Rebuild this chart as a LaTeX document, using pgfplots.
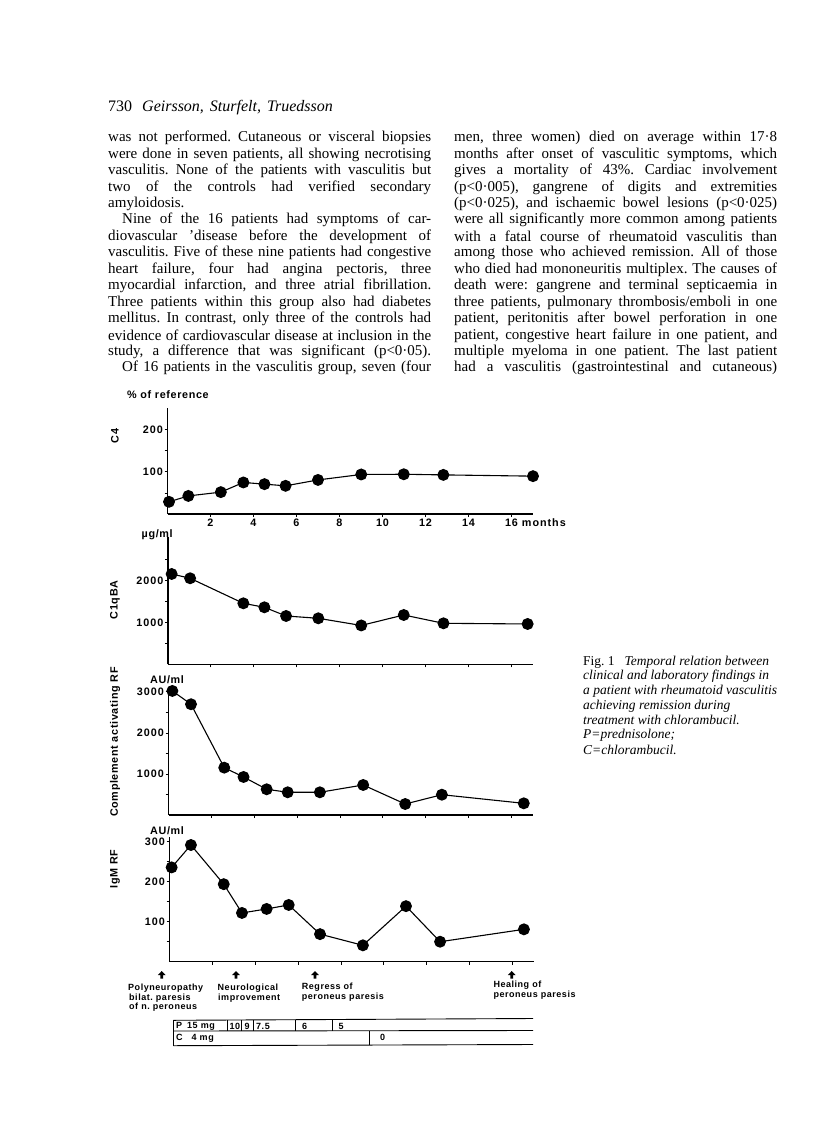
\documentclass[border=0pt]{standalone}
\usepackage{pgfplots}
\pgfplotsset{compat=1.18}
\usepackage{fontspec}
\setmainfont{Liberation Serif}
\newfontfamily\hv[LetterSpace=6]{Liberation Sans}
\newfontfamily\hvt[LetterSpace=9]{Liberation Sans}
\newfontfamily\hva[LetterSpace=6]{Liberation Sans}
\newcommand{\jl}[1]{\makebox[323pt][s]{#1}}
\newcommand{\ji}[1]{\makebox[309pt][s]{#1}}
\newcommand{\sbf}{\hv\bfseries\fontsize{10.8}{12}\selectfont}
\newcommand{\stk}{\hvt\bfseries\fontsize{10.8}{12}\selectfont}
\newcommand{\sann}{\hva\bfseries\fontsize{9}{10}\selectfont}
\frenchspacing

\pgfplotsset{
  panel/.style={
    scale only axis, clip=false,
    axis x line=bottom, axis y line=left,
    axis line style={-, line width=1.2pt},
    tick style={line width=0.9pt, black},
    tick align=outside, major tick length=3pt, minor tick length=3pt,
    xmin=0, xmax=17, xtick={2,4,...,16}, xticklabels={},
    ymin=0, scaled ticks=false,
    ticklabel style={font=\stk},
    yticklabel style={inner sep=1.5pt},
    /pgf/number format/assume math mode=true,
  },
  dat/.style={black, line width=1.1pt, mark=*, mark size=5.4pt, mark options={solid, fill=black}},
}

\begin{document}
\begin{tikzpicture}[x=1pt,y=-1pt]
\fill[white] (0,0) rectangle (816,1144);
\path[use as bounding box] (0,0) rectangle (816,1144);

% ---------- body text ----------
\node[anchor=west, inner sep=0pt, font=\fontsize{16}{18}\selectfont] at (108,108) {730\hspace{10pt}\itshape Geirsson,\hspace{2pt} Sturfelt,\hspace{2pt} Truedsson};
\begin{scope}[every node/.style={anchor=west, inner sep=0pt, font=\fontsize{15}{16}\selectfont}]
\node at (108,138.0) {\jl{was not performed. Cutaneous or visceral biopsies}};
\node at (108,154.45) {\jl{were done in seven patients, all showing necrotising}};
\node at (108,170.9) {\jl{vasculitis. None of the patients with vasculitis but}};
\node at (108,187.35) {\jl{two of the controls had verified secondary}};
\node at (108,203.8) {amyloidosis.};
\node at (122,220.25) {\ji{Nine of the 16 patients had symptoms of car-}};
\node at (108,236.7) {\jl{diovascular 'disease before the development of}};
\node at (108,253.15) {\jl{vasculitis. Five of these nine patients had congestive}};
\node at (108,269.6) {\jl{heart failure, four had angina pectoris, three}};
\node at (108,286.05) {\jl{myocardial infarction, and three atrial fibrillation.}};
\node at (108,302.5) {\jl{Three patients within this group also had diabetes}};
\node at (108,318.95) {\jl{mellitus. In contrast, only three of the controls had}};
\node at (108,335.4) {\jl{evidence of cardiovascular disease at inclusion in the}};
\node at (108,351.85) {\jl{study, a difference that was significant (p<0·05).}};
\node at (122,368.3) {\ji{Of 16 patients in the vasculitis group, seven (four}};

\node at (454,138.0) {\jl{men, three women) died on average within 17·8}};
\node at (454,154.45) {\jl{months after onset of vasculitic symptoms, which}};
\node at (454,170.9) {\jl{gives a mortality of 43\%. Cardiac involvement}};
\node at (454,187.35) {\jl{(p<0·005), gangrene of digits and extremities}};
\node at (454,203.8) {\jl{(p<0·025), and ischaemic bowel lesions (p<0·025)}};
\node at (454,220.25) {\jl{were all significantly more common among patients}};
\node at (454,236.7) {\jl{with a fatal course of rheumatoid vasculitis than}};
\node at (454,253.15) {\jl{among those who achieved remission. All of those}};
\node at (454,269.6) {\jl{who died had mononeuritis multiplex. The causes of}};
\node at (454,286.05) {\jl{death were: gangrene and terminal septicaemia in}};
\node at (454,302.5) {\jl{three patients, pulmonary thrombosis/emboli in one}};
\node at (454,318.95) {\jl{patient, peritonitis after bowel perforation in one}};
\node at (454,335.4) {\jl{patient, congestive heart failure in one patient, and}};
\node at (454,351.85) {\jl{multiple myeloma in one patient. The last patient}};
\node at (454,368.3) {\jl{had a vasculitis (gastrointestinal and cutaneous)}};
\end{scope}

% ---------- caption ----------
\begin{scope}[every node/.style={anchor=west, inner sep=0pt, font=\fontsize{13.5}{14.6}\selectfont}]
\node at (583,662) {Fig. 1\hspace{10pt}\itshape Temporal relation between};
\node at (583,676.6) {\itshape clinical and laboratory findings in};
\node at (583,691.2) {\itshape a patient with rheumatoid vasculitis};
\node at (583,705.8) {\itshape achieving remission during};
\node at (583,720.4) {\itshape treatment with chlorambucil.};
\node at (583,735.0) {\itshape P=prednisolone;};
\node at (583,749.6) {\itshape C=chlorambucil.};
\end{scope}

% ---------- panel 1: C4 ----------
\begin{axis}[panel, at={(167.5pt,-514pt)}, anchor=south west,
  width=365.5pt, height=106pt, ymax=252,
  ytick={100,200}, minor ytick={50,150},
  xticklabels={2,4,6,8,10,12,14,16\rlap{ months}},
  xticklabel style={inner sep=1.5pt}]
\addplot[dat] coordinates {(0.07,29) (0.97,43) (2.48,52) (3.53,75) (4.51,71) (5.49,67) (7.0,81) (9.01,94) (10.99,94.5) (12.83,93) (17.0,90)};
\end{axis}

% ---------- panel 2: C1qBA ----------
\begin{axis}[panel, at={(168pt,-664.3pt)}, anchor=south west,
  width=365pt, height=127.3pt, ymax=3030,
  ytick={1000,2000}, yticklabels={1000,2000}, minor ytick={500,1500,2500}]
\addplot[dat] coordinates {(0.17,2150) (1.03,2048) (3.51,1452) (4.49,1357) (5.5,1150) (7.0,1095) (9.0,925) (10.98,1174) (12.83,976) (16.75,960)};
\end{axis}

% ---------- panel 3: complement activating RF ----------
\begin{axis}[panel, at={(168.5pt,-815pt)}, anchor=south west,
  width=364.5pt, height=128pt, ymax=3120,
  ytick={1000,2000,3000}, yticklabels={1000,2000,3000}, minor ytick={500,1500,2500}]
\addplot[dat] coordinates {(0.18,3024) (1.05,2700) (2.6,1154) (3.5,927) (4.58,627) (5.56,554) (7.06,554) (9.08,732) (11.04,268) (12.75,495) (16.57,285)};
\end{axis}

% ---------- panel 4: IgM RF ----------
\begin{axis}[panel, at={(169.5pt,-961.7pt)}, anchor=south west,
  width=364.5pt, height=124.7pt, ymax=312,
  ytick={100,200,300}, minor ytick={50,150,250}]
\addplot[dat] coordinates {(0.1,236) (1.0,292) (2.53,194) (3.38,122) (4.53,132) (5.56,142) (7.02,69) (9.02,41) (11.03,139) (12.62,50) (16.53,81)};
\end{axis}

% ---------- axis titles and units ----------
\node[anchor=west, inner sep=0pt, font=\sbf] at (127,395) {\% of reference};
\node[anchor=west, inner sep=0pt, font=\sbf] at (141.5,535) {µg/ml};
\node[anchor=west, inner sep=0pt, font=\sbf] at (150,680) {AU/ml};
\node[anchor=west, inner sep=0pt, font=\sbf] at (150,830.5) {AU/ml};
\node[rotate=90, inner sep=0pt, font=\sbf] at (115,436) {C4};
\node[rotate=90, inner sep=0pt, font=\sbf] at (115,600) {C1qBA};
\node[rotate=90, inner sep=0pt, font=\sbf] at (115,742) {Complement activating RF};
\node[rotate=90, inner sep=0pt, font=\sbf] at (115,869) {IgM RF};

% ---------- event arrows ----------
\foreach \ax in {161.7,236,315,511.7}{
  \fill (\ax,971) -- (\ax+3.8,975) -- (\ax+1.3,975) -- (\ax+1.3,978.5) -- (\ax-1.3,978.5) -- (\ax-1.3,975) -- (\ax-3.8,975) -- cycle;
}
\begin{scope}[every node/.style={anchor=west, inner sep=0pt, font=\sann}]
\node at (128,987.7) {Polyneuropathy};
\node at (129,998.3) {bilat. paresis};
\node at (129,1007.5) {of n. peroneus};
\node at (217.5,987.7) {Neurological};
\node at (218,998.3) {improvement};
\node at (301.7,986.7) {Regress of};
\node at (301.7,997.5) {peroneus paresis};
\node at (493.3,985) {Healing of};
\node at (493.3,995.5) {peroneus paresis};
\end{scope}

% ---------- treatment table ----------
\begin{scope}[line width=0.9pt]
\draw (173.3,1020.3) -- (533,1018.5);
\draw (173.3,1031) -- (533,1030.5);
\draw (173.3,1045.7) -- (533,1044.5);
\draw (173.3,1020.3) -- (173.3,1045.7);
\foreach \vx in {227.3,241.7,253.3,295.7,332.3} {\draw (\vx,1020) -- (\vx,1031);}
\draw (369.3,1031) -- (369.3,1045.3);
\end{scope}
\begin{scope}[every node/.style={anchor=west, inner sep=0pt, font=\sann}]
\node at (176,1026.5) {P\hspace{5pt}15 mg};
\node at (229.5,1026.5) {10};
\node at (244.5,1026.5) {9};
\node at (256,1026.5) {7.5};
\node at (302,1026.5) {6};
\node at (338.5,1026.5) {5};
\node at (176,1038.3) {C\hspace{9pt}4 mg};
\node at (380,1037.8) {0};
\end{scope}
\end{tikzpicture}
\end{document}
